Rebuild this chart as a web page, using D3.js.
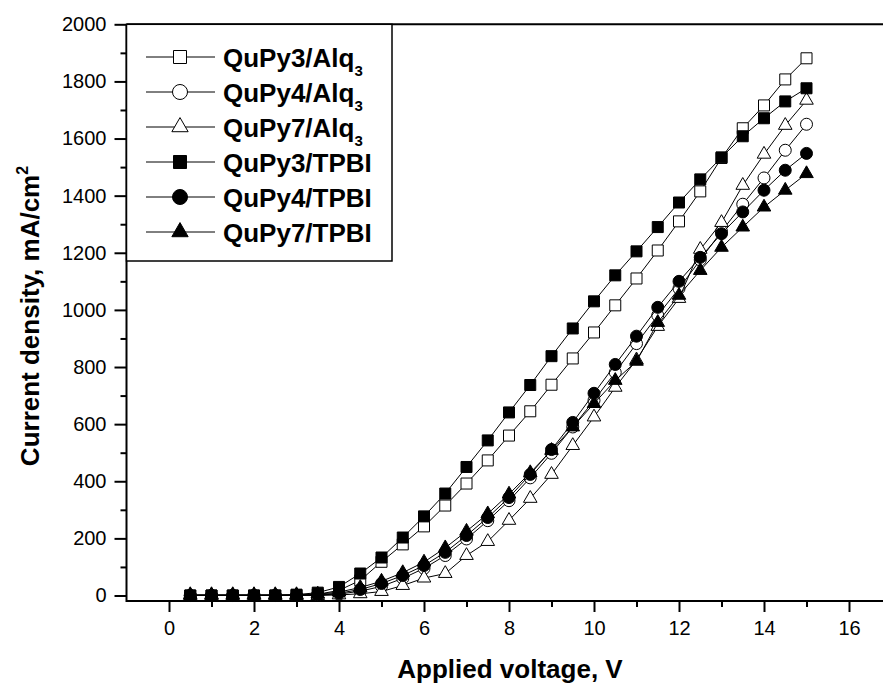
<!DOCTYPE html>
<html>
<head>
<meta charset="utf-8">
<script src="https://cdn.jsdelivr.net/npm/d3@7"></script>
<style>
  body { margin: 0; background: #fff; }
  text { font-family: Arial, "Liberation Sans", sans-serif; fill: #000; }
</style>
</head>
<body>
<div id="chart"></div>
<script>
// Dados
const voltage = [0.5, 1, 1.5, 2, 2.5, 3, 3.5, 4, 4.5, 5, 5.5, 6, 6.5, 7, 7.5, 8, 8.5, 9, 9.5, 10, 10.5, 11, 11.5, 12, 12.5, 13, 13.5, 14, 14.5, 15];
const qupy3Alq = [0, 0, 0, 0, 0, 1, 4, 18, 53, 118, 179, 242, 315, 392, 473, 560, 645, 738, 830, 921, 1016, 1110, 1208, 1310, 1415, 1532, 1636, 1716, 1807, 1881];
const qupy4Alq = [0, 0, 0, 0, 0, 0, 2, 5, 15, 32, 60, 95, 140, 198, 262, 332, 412, 498, 590, 683, 781, 882, 981, 1075, 1175, 1275, 1370, 1462, 1559, 1650];
const qupy7Alq = [0, 0, 0, 0, 0, 0, 0, 2, 6, 14, 35, 61, 77, 140, 189, 263, 340, 424, 525, 625, 729, 825, 942, 1040, 1212, 1306, 1436, 1545, 1646, 1734];
const qupy3Tpbi = [0, 0, 0, 0, 0, 3, 10, 30, 77, 133, 203, 277, 357, 450, 543, 641, 737, 838, 935, 1030, 1121, 1205, 1290, 1376, 1457, 1534, 1608, 1671, 1730, 1776];
const qupy4Tpbi = [0, 0, 0, 0, 0, 0, 3, 8, 21, 42, 70, 105, 151, 210, 273, 343, 424, 511, 606, 708, 809, 908, 1009, 1100, 1184, 1267, 1343, 1419, 1489, 1548];
const qupy7Tpbi = [3, 3, 3, 3, 3, 3, 5, 12, 28, 50, 80, 117, 167, 225, 286, 355, 430, 508, 590, 672, 753, 820, 956, 1051, 1138, 1219, 1290, 1360, 1419, 1477];

const seriesLabels = ["QuPy3/Alq", "QuPy4/Alq", "QuPy7/Alq", "QuPy3/TPBI", "QuPy4/TPBI", "QuPy7/TPBI"];
const seriesSubs = ["3", "3", "3", "", "", ""];
const xTicks = [0, 2, 4, 6, 8, 10, 12, 14, 16];
const yTicks = [0, 200, 400, 600, 800, 1000, 1200, 1400, 1600, 1800, 2000];

const seriesValues = [qupy3Alq, qupy4Alq, qupy7Alq, qupy3Tpbi, qupy4Tpbi, qupy7Tpbi];
const shapes = [d3.symbolSquare, d3.symbolCircle, d3.symbolTriangle, d3.symbolSquare, d3.symbolCircle, d3.symbolTriangle];
const fills = ["#fff", "#fff", "#fff", "#000", "#000", "#000"];
const sizes = [121, 113, 80, 121, 113, 80];
const legendSizes = [169, 177, 115, 169, 177, 115];

const width = 883, height = 687;

const svg = d3.select("#chart").append("svg")
    .attr("width", width)
    .attr("height", height);

svg.append("rect").attr("width", width).attr("height", height).attr("fill", "#fff");

// Escalas
const x = d3.scaleLinear().domain([0, 16]).range([169, 849]);
const y = d3.scaleLinear().domain([0, 2000]).range([595.5, 24.3]);
const xLeft = x(-1), xRight = x(17);
const yBottom = 601, yTop = y(2000);

// Eixo Y (ticks maiores e menores)
svg.append("g")
    .attr("transform", `translate(${xLeft},0)`)
    .call(d3.axisLeft(y).tickValues(yTicks).tickSize(12).tickPadding(8).tickFormat(d3.format("d")))
    .call(g => g.select(".domain").remove())
    .call(g => g.selectAll("line").attr("stroke-width", 2))
    .call(g => g.selectAll("text").style("font-size", "20px").attr("font-family", null));

svg.append("g")
    .attr("transform", `translate(${xLeft},0)`)
    .call(d3.axisLeft(y).tickValues(d3.range(100, 2000, 200)).tickSize(6).tickFormat(""))
    .call(g => g.select(".domain").remove())
    .call(g => g.selectAll("line").attr("stroke-width", 2));

// Eixo X
svg.append("g")
    .attr("transform", `translate(0,${yBottom})`)
    .call(d3.axisBottom(x).tickValues(xTicks).tickSize(11).tickPadding(9).tickFormat(d3.format("d")))
    .call(g => g.select(".domain").remove())
    .call(g => g.selectAll("line").attr("stroke-width", 2))
    .call(g => g.selectAll("text").style("font-size", "20px").attr("font-family", null));

svg.append("g")
    .attr("transform", `translate(0,${yBottom})`)
    .call(d3.axisBottom(x).tickValues(d3.range(1, 17, 2)).tickSize(6).tickFormat(""))
    .call(g => g.select(".domain").remove())
    .call(g => g.selectAll("line").attr("stroke-width", 2));

// Linhas dos eixos e moldura
svg.append("line").attr("x1", xLeft).attr("x2", xLeft).attr("y1", yTop).attr("y2", yBottom + 1)
    .attr("stroke", "#000").attr("stroke-width", 2);
svg.append("line").attr("x1", xLeft).attr("x2", xRight).attr("y1", yBottom).attr("y2", yBottom)
    .attr("stroke", "#000").attr("stroke-width", 2);
svg.append("line").attr("x1", xLeft).attr("x2", xRight).attr("y1", yTop).attr("y2", yTop)
    .attr("stroke", "#000").attr("stroke-width", 2);

// Séries
const line = d3.line().x(d => x(d[0])).y(d => y(d[1]));

seriesValues.forEach((vals, i) => {
    const pts = voltage.map((v, j) => [v, vals[j]]);
    const g = svg.append("g");
    g.append("path")
        .attr("d", line(pts))
        .attr("fill", "none")
        .attr("stroke", "#000")
        .attr("stroke-width", 1);
    g.selectAll("path.mk")
        .data(pts)
        .enter().append("path")
        .attr("class", "mk")
        .attr("transform", d => `translate(${x(d[0])},${y(d[1])})`)
        .attr("d", d3.symbol().type(shapes[i]).size(sizes[i]))
        .attr("fill", fills[i])
        .attr("stroke", "#000")
        .attr("stroke-width", 1);
});

// Legenda
const legend = svg.append("g");
legend.append("rect")
    .attr("x", xLeft).attr("y", yTop)
    .attr("width", 392 - xLeft).attr("height", 261 - yTop)
    .attr("fill", "#fff").attr("stroke", "#000").attr("stroke-width", 1.5);

seriesLabels.forEach((name, i) => {
    const cy = 57 + i * 35;
    legend.append("line")
        .attr("x1", 146).attr("x2", 215).attr("y1", cy).attr("y2", cy)
        .attr("stroke", "#000").attr("stroke-width", 1);
    legend.append("path")
        .attr("transform", `translate(180,${cy})`)
        .attr("d", d3.symbol().type(shapes[i]).size(legendSizes[i]))
        .attr("fill", fills[i]).attr("stroke", "#000").attr("stroke-width", 1);
    const t = legend.append("text")
        .attr("x", 223).attr("y", cy + 9.5)
        .style("font-size", "26px").style("font-weight", "bold")
        .text(name);
    if (seriesSubs[i]) {
        t.append("tspan")
            .attr("dy", 9).style("font-size", "15px")
            .text(seriesSubs[i]);
    }
});

// Títulos dos eixos
svg.append("text")
    .attr("text-anchor", "middle")
    .attr("x", 510).attr("y", 678)
    .style("font-size", "26px").style("font-weight", "bold")
    .text("Applied voltage, V");

const yTitle = svg.append("text")
    .attr("text-anchor", "middle")
    .attr("transform", "translate(39,316) rotate(-90)")
    .style("font-size", "26px").style("font-weight", "bold")
    .text("Current density, mA/cm");
yTitle.append("tspan").attr("dy", -11).style("font-size", "16px").text("2");
</script>
</body>
</html>
